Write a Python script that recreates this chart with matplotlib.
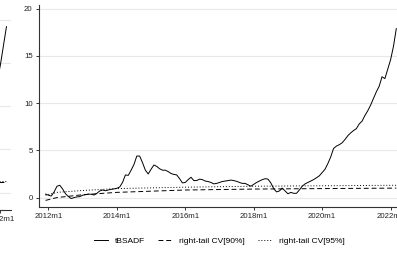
import matplotlib
matplotlib.use("Agg")
import matplotlib.pyplot as plt

plt.rcParams['font.family'] = ['Liberation Sans', 'DejaVu Sans']

# months counted from 2012m1 (=0)
months = list(range(-1, 123))
tbsadf = [0.37, 0.25, 0.16, 0.6, 1.2, 1.3, 0.9, 0.4, 0.1, -0.1, 0.0, 0.07, 0.1,
          0.25, 0.3, 0.37, 0.35, 0.27, 0.45, 0.7, 0.8, 0.72, 0.8, 0.87, 0.92,
          0.98, 1.12, 1.6, 2.4, 2.35, 2.9, 3.5, 4.4, 4.4, 3.7, 2.9, 2.5, 3.0,
          3.45, 3.3, 3.05, 2.9, 2.9, 2.75, 2.55, 2.45, 2.4, 2.0, 1.55, 1.6,
          1.9, 2.15, 1.8, 1.8, 1.95, 1.9, 1.75, 1.7, 1.6, 1.45, 1.5, 1.6, 1.7,
          1.75, 1.8, 1.85, 1.8, 1.72, 1.6, 1.5, 1.5, 1.35, 1.2, 1.4, 1.6, 1.75,
          1.9, 2.0, 1.95, 1.55, 0.95, 0.6, 0.7, 1.0, 0.7, 0.4, 0.55, 0.45, 0.45,
          0.8, 1.2, 1.45, 1.6, 1.75, 1.9, 2.1, 2.3, 2.65, 3.0, 3.6, 4.3, 5.2,
          5.45, 5.6, 5.8, 6.15, 6.55, 6.85, 7.1, 7.3, 7.8, 8.1, 8.7, 9.2, 9.8,
          10.5, 11.2, 11.8, 12.8, 12.6, 13.6, 14.6, 16.0, 17.9]

cv_months = [-1, 3, 12, 24, 48, 72, 96, 122]
cv90 = [-0.3, 0.0, 0.3, 0.55, 0.8, 0.9, 0.95, 1.0]
cv95 = [0.25, 0.55, 0.75, 0.95, 1.1, 1.2, 1.25, 1.3]

tick_months = [0, 24, 48, 72, 96, 120]
tick_labels = ['2012m1', '2014m1', '2016m1', '2018m1', '2020m1', '2022m1']
y_ticks = [0, 5, 10, 15, 20]

# tail of the neighbouring panel (cut off at the left edge)
left_months = [119, 120, 121, 122]
left_vals = [13.0, 14.8, 17.0, 19.2]
left_cv90 = [1.2, 1.2, 1.2, 1.2]
left_cv95 = [1.4, 1.4, 1.4, 1.4]

W, H = 397, 256
fig = plt.figure(figsize=(W / 100, H / 100), dpi=100)
fig.patch.set_facecolor('white')

def style(ax):
    ax.grid(axis='y', color='#e8e8e8', linewidth=0.8)
    ax.set_axisbelow(True)
    for s in ['top', 'right']:
        ax.spines[s].set_visible(False)
    for s in ['left', 'bottom']:
        ax.spines[s].set_color('#333333')
        ax.spines[s].set_linewidth(0.8)
    ax.tick_params(length=2.5, width=0.7, color='#333333', labelsize=5.6,
                   labelcolor='#222222', pad=2)

dash = (0, (5, 3))
dot = (0, (1, 2))

# left neighbour panel
axl = fig.add_axes([(-60) / W, 1 - 210 / H, 71 / W, 205 / H])
style(axl)
axl.plot(left_months, left_vals, color='black', lw=0.7)
axl.plot(left_months, left_cv90, color='black', lw=0.7, linestyle=dash)
axl.plot(left_months, left_cv95, color='black', lw=0.7, linestyle=dot)
axl.set_xlim(100, 123.5)
axl.set_ylim(-2.0, 21.7)
axl.set_xticks([120])
axl.set_xticklabels(['2022m1'])
axl.set_yticks(y_ticks)
axl.set_yticklabels([])

# main panel
ax = fig.add_axes([39 / W, 1 - 207 / H, 361 / W, 202 / H])
style(ax)
ax.plot(months, tbsadf, color='black', lw=0.7, label='tBSADF')
ax.plot(cv_months, cv90, color='black', lw=0.7, linestyle=dash,
        label='right-tail CV[90%]')
ax.plot(cv_months, cv95, color='black', lw=0.7, linestyle=dot,
        label='right-tail CV[95%]')
ax.set_xlim(-3.3, 123.3)
ax.set_ylim(-1.0, 20.4)
ax.set_xticks(tick_months)
ax.set_xticklabels(tick_labels)
ax.set_yticks(y_ticks)
ax.set_yticklabels([str(v) for v in y_ticks])

fig.legend(loc='center', bbox_to_anchor=(219 / W, 1 - 241 / H), ncol=3,
           frameon=False, fontsize=6, handlelength=1.7, handletextpad=0.8,
           columnspacing=1.6)

fig.savefig('out.png', dpi=100)
